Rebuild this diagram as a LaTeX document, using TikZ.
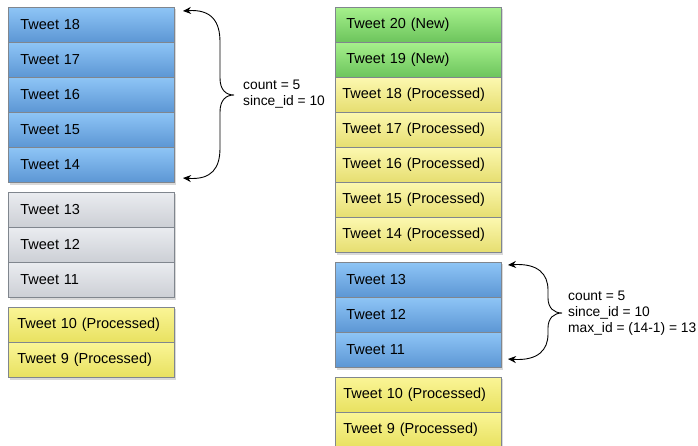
\documentclass[tikz,border=0pt]{standalone}
\usepackage{fontspec}
\setmainfont{Liberation Sans}
\usetikzlibrary{arrows.meta,calc}
\definecolor{blueT}{RGB}{142,197,246}
\definecolor{blueB}{RGB}{92,150,212}
\definecolor{greenT}{RGB}{166,240,140}
\definecolor{greenB}{RGB}{108,196,92}
\definecolor{yelT}{RGB}{252,248,176}
\definecolor{yelB}{RGB}{230,222,112}
\definecolor{yel2T}{RGB}{250,245,150}
\definecolor{yel2B}{RGB}{232,225,96}
\definecolor{grayT}{RGB}{234,236,240}
\definecolor{grayB}{RGB}{204,207,213}
\definecolor{cellborder}{RGB}{128,134,142}
\begin{document}
\begin{tikzpicture}[x=1pt,y=-1pt,
  cell/.style={draw=cellborder, line width=0.7pt, minimum height=35pt, inner ysep=0pt,
    align=left, font=\fontsize{14.5}{17}\selectfont, anchor=north west},
  pad12/.style={inner xsep=12pt,text width=142pt},
  pad11/.style={inner xsep=11pt,text width=144pt},
  pad9/.style={inner xsep=9pt,text width=148pt},
  pad8/.style={inner xsep=8pt,text width=150pt},
  pad7/.style={inner xsep=7pt,text width=152pt},
  bluecell/.style={cell, top color=blueT, bottom color=blueB},
  greencell/.style={cell, top color=greenT, bottom color=greenB},
  yelcell/.style={cell, top color=yelT, bottom color=yelB},
  yelcellb/.style={cell, top color=yel2T, bottom color=yel2B},
  graycell/.style={cell, top color=grayT, bottom color=grayB},
  shadowbox/.style={fill=black, opacity=0.15},
  brace/.style={line width=0.9pt, {Stealth[length=8pt,width=7pt]}-{Stealth[length=8pt,width=7pt]}},
  lbl/.style={align=left, anchor=west, inner sep=0pt, font=\fontsize{13.8}{16}\selectfont}]
\useasboundingbox (0,0) rectangle (698,445);
\fill[white] (0,0) rectangle (698,445);
% shadows
\fill[shadowbox] (9.5,9) rectangle (176,184.5);
\fill[shadowbox] (9.5,194) rectangle (176,299.5);
\fill[shadowbox] (9.5,309) rectangle (176,379.5);
\fill[shadowbox] (336.5,9) rectangle (503,254.5);
\fill[shadowbox] (336.5,264) rectangle (503,369.5);
\fill[shadowbox] (336.5,379) rectangle (503,449.5);
% left column
\node[bluecell,pad12] (l18) at (8,7) {Tweet 18};
\node[bluecell,pad12] (l17) at (8,42) {Tweet 17};
\node[bluecell,pad12] (l16) at (8,77) {Tweet 16};
\node[bluecell,pad12] (l15) at (8,112) {Tweet 15};
\node[bluecell,pad12] (l14) at (8,147) {Tweet 14};
\node[graycell,pad12] (l13) at (8,192) {Tweet 13};
\node[graycell,pad12] (l12) at (8,227) {Tweet 12};
\node[graycell,pad12] (l11) at (8,262) {Tweet 11};
\node[yelcellb,pad9] (l10) at (8,307) {Tweet 10 (Processed)};
\node[yelcellb,pad9] (l9) at (8,342) {Tweet 9 (Processed)};
% right column
\node[greencell,pad11] (r20) at (335,7) {Tweet 20 (New)};
\node[greencell,pad11] (r19) at (335,42) {Tweet 19 (New)};
\node[yelcell,pad7] (r18) at (335,77) {Tweet 18 (Processed)};
\node[yelcell,pad7] (r17) at (335,112) {Tweet 17 (Processed)};
\node[yelcell,pad7] (r16) at (335,147) {Tweet 16 (Processed)};
\node[yelcell,pad7] (r15) at (335,182) {Tweet 15 (Processed)};
\node[yelcell,pad7] (r14) at (335,217) {Tweet 14 (Processed)};
\node[bluecell,pad11] (r13) at (335,262) {Tweet 13};
\node[bluecell,pad11] (r12) at (335,297) {Tweet 12};
\node[bluecell,pad11] (r11) at (335,332) {Tweet 11};
\node[yelcellb,pad8] (r10) at (335,377) {Tweet 10 (Processed)};
\node[yelcellb,pad8] (r9) at (335,412) {Tweet 9 (Processed)};
% left brace
\coordinate (b1top) at (183,11);
\coordinate (b1tip) at (234,95);
\coordinate (b1bot) at (183,178);
\draw[brace] (b1top) .. controls (212,9) and (220,22) .. (220,42) -- (220,78)
  .. controls (220,90) and (226,95) .. (b1tip)
  .. controls (226,95) and (220,100) .. (220,112) -- (220,148)
  .. controls (220,168) and (212,180) .. (b1bot);
\node[lbl] (c1) at (243,94) {count = 5\\since\_id = 10};
% right brace
\coordinate (b2top) at (508,265);
\coordinate (b2tip) at (562,313);
\coordinate (b2bot) at (508,359);
\draw[brace] (b2top) .. controls (538,263) and (548,274) .. (548,290) -- (548,298)
  .. controls (548,308) and (554,313) .. (b2tip)
  .. controls (554,313) and (548,318) .. (548,328) -- (548,334)
  .. controls (548,350) and (538,361) .. (b2bot);
\node[lbl] (c2) at (568,313) {count = 5\\since\_id = 10\\max\_id = (14-1) = 13};
\end{tikzpicture}
\end{document}
